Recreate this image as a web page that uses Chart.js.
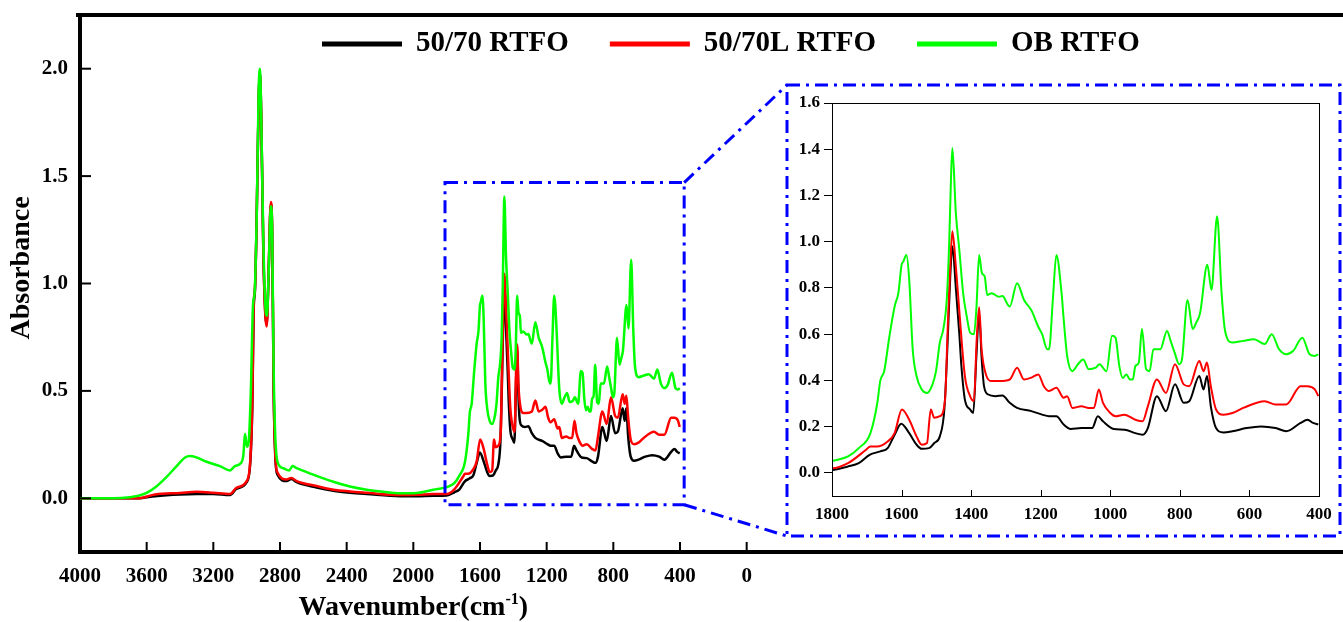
<!DOCTYPE html>
<html>
<head>
<meta charset="utf-8">
<script src="https://cdn.jsdelivr.net/npm/chart.js@4.4.0/dist/chart.umd.min.js"></script>
<style>
  body { margin: 0; background: #fff; }
  #wrap { position: relative; width: 1343px; height: 622px; overflow: hidden; }
  #mainChart { position: absolute; left: 0; top: 0; }
  #insetChart { position: absolute; left: 790px; top: 90px; }
</style>
</head>
<body>
<div id="wrap">
  <canvas id="mainChart" width="1343" height="622"></canvas>
  <canvas id="insetChart" width="545" height="440"></canvas>
</div>
<script>
const SERIF = "'Liberation Serif', 'Times New Roman', serif";

const seriesNames = ["50/70 RTFO", "50/70L RTFO", "OB RTFO"];
const seriesColors = ["#000000", "#ff0000", "#00ff00"];

const mainXTicks = [4000, 3600, 3200, 2800, 2400, 2000, 1600, 1200, 800, 400, 0];
const mainYTicks = [0, 0.5, 1.0, 1.5, 2.0];
const insetXTicks = [1800, 1600, 1400, 1200, 1000, 800, 600, 400];
const insetYTicks = [0, 0.2, 0.4, 0.6, 0.8, 1.0, 1.2, 1.4, 1.6];

// zoomed region marked on the main plot (wavenumber, absorbance)
const zoomWavenumbers = [1810, 375];
const zoomAbsorbance = [-0.03, 1.47];

// [wavenumber, absorbance]
const black5070 = [
  [4000, 0], [3800, 0], [3650, 0], [3550, 0.01], [3400, 0.018], [3300, 0.02], [3200, 0.02],
  [3100, 0.015], [3060, 0.045], [3000, 0.075], [2978, 0.17], [2966, 0.43], [2958, 0.88],
  [2950, 0.97], [2940, 1.3], [2928, 1.85], [2920, 1.98], [2912, 1.75], [2900, 1.15],
  [2888, 0.86], [2880, 0.81], [2870, 1.0], [2855, 1.37], [2847, 1.24], [2838, 0.5],
  [2828, 0.19], [2815, 0.11], [2760, 0.08], [2732, 0.09], [2700, 0.075], [2580, 0.05],
  [2480, 0.035], [2380, 0.026], [2280, 0.02], [2080, 0.01], [1980, 0.01], [1880, 0.012],
  [1800, 0.013], [1754, 0.028], [1723, 0.042], [1692, 0.078], [1661, 0.093], [1640, 0.107],
  [1620, 0.165], [1601, 0.213], [1578, 0.172], [1557, 0.122], [1542, 0.104], [1521, 0.107],
  [1506, 0.129], [1490, 0.158], [1477, 0.274], [1468, 0.55], [1460, 0.85], [1454, 0.98],
  [1444, 0.8], [1434, 0.6], [1428, 0.462], [1418, 0.317], [1403, 0.274], [1394, 0.259],
  [1385, 0.5], [1377, 0.69], [1370, 0.5], [1363, 0.375], [1351, 0.339], [1330, 0.332],
  [1310, 0.335], [1289, 0.303], [1268, 0.281], [1227, 0.267], [1196, 0.252], [1176, 0.245],
  [1155, 0.245], [1134, 0.209], [1114, 0.19], [1083, 0.194], [1052, 0.194], [1036, 0.245],
  [1021, 0.223], [990, 0.19], [959, 0.187], [928, 0.172], [907, 0.165], [892, 0.194],
  [866, 0.332], [840, 0.267], [814, 0.383], [789, 0.303], [773, 0.31], [744, 0.419],
  [732, 0.361], [722, 0.419], [711, 0.288], [696, 0.194], [675, 0.175], [649, 0.18],
  [608, 0.194], [567, 0.201], [525, 0.194], [494, 0.18], [453, 0.216], [433, 0.23],
  [417, 0.216], [402, 0.209]
];

const red5070L = [
  [4000, 0], [3800, 0], [3650, 0], [3550, 0.018], [3400, 0.025], [3300, 0.03], [3200, 0.026],
  [3100, 0.02], [3060, 0.05], [3000, 0.08], [2978, 0.18], [2966, 0.45], [2958, 0.9],
  [2950, 0.98], [2940, 1.3], [2928, 1.85], [2920, 1.98], [2912, 1.75], [2900, 1.15],
  [2888, 0.85], [2880, 0.8], [2870, 1.0], [2855, 1.38], [2847, 1.25], [2838, 0.5],
  [2828, 0.2], [2815, 0.12], [2760, 0.088], [2732, 0.095], [2700, 0.08], [2580, 0.057],
  [2480, 0.04], [2380, 0.032], [2280, 0.026], [2080, 0.015], [1980, 0.016], [1880, 0.02],
  [1800, 0.02], [1754, 0.042], [1702, 0.1], [1690, 0.114], [1671, 0.114], [1640, 0.136],
  [1620, 0.172], [1599, 0.274], [1578, 0.23], [1557, 0.158], [1542, 0.122], [1527, 0.129],
  [1516, 0.274], [1506, 0.238], [1490, 0.245], [1475, 0.317], [1468, 0.6], [1460, 0.9],
  [1454, 1.045], [1444, 0.893], [1434, 0.7], [1418, 0.419], [1403, 0.332], [1392, 0.31],
  [1384, 0.578], [1377, 0.716], [1370, 0.535], [1356, 0.419], [1341, 0.397], [1320, 0.397],
  [1289, 0.404], [1268, 0.455], [1248, 0.404], [1227, 0.412], [1207, 0.426], [1191, 0.375],
  [1176, 0.354], [1155, 0.368], [1134, 0.325], [1124, 0.332], [1109, 0.281], [1083, 0.288],
  [1062, 0.281], [1047, 0.281], [1033, 0.361], [1021, 0.303], [1000, 0.259], [985, 0.245],
  [959, 0.252], [928, 0.23], [907, 0.223], [892, 0.288], [866, 0.404], [840, 0.346],
  [814, 0.47], [789, 0.383], [773, 0.375], [744, 0.484], [732, 0.44], [722, 0.477],
  [711, 0.375], [696, 0.274], [675, 0.252], [649, 0.259], [618, 0.281], [556, 0.31],
  [525, 0.296], [494, 0.296], [453, 0.375], [433, 0.375], [412, 0.361], [402, 0.332]
];

const greenOB = [
  [4000, 0], [3900, 0], [3800, 0], [3700, 0.005], [3650, 0.012], [3600, 0.025], [3550, 0.05],
  [3480, 0.1], [3420, 0.15], [3370, 0.19], [3340, 0.197], [3300, 0.19], [3240, 0.17],
  [3160, 0.15], [3100, 0.13], [3070, 0.15], [3040, 0.16], [3020, 0.2], [3010, 0.3],
  [2998, 0.24], [2988, 0.26], [2975, 0.5], [2962, 0.9], [2952, 0.96], [2940, 1.3],
  [2928, 1.9], [2920, 2.0], [2912, 1.75], [2900, 1.2], [2888, 0.9], [2878, 0.85],
  [2868, 1.05], [2855, 1.36], [2847, 1.25], [2838, 0.6], [2828, 0.28], [2815, 0.17],
  [2780, 0.14], [2745, 0.13], [2725, 0.15], [2700, 0.14], [2600, 0.11], [2480, 0.077],
  [2380, 0.055], [2280, 0.04], [2180, 0.03], [2080, 0.023], [1980, 0.025], [1880, 0.04],
  [1800, 0.052], [1754, 0.071], [1723, 0.107], [1690, 0.17], [1670, 0.3], [1661, 0.4],
  [1650, 0.44], [1635, 0.59], [1620, 0.72], [1609, 0.78], [1600, 0.9], [1595, 0.914],
  [1586, 0.943], [1578, 0.835], [1568, 0.535], [1557, 0.419], [1542, 0.361], [1527, 0.346],
  [1511, 0.383], [1501, 0.44], [1490, 0.564], [1480, 0.622], [1470, 0.752], [1463, 1.0],
  [1458, 1.27], [1454, 1.405], [1444, 1.125], [1434, 0.965], [1423, 0.777], [1413, 0.68],
  [1403, 0.607], [1392, 0.6], [1385, 0.709], [1377, 0.943], [1369, 0.864], [1361, 0.85],
  [1354, 0.77], [1341, 0.777], [1320, 0.762], [1310, 0.765], [1294, 0.726], [1289, 0.72],
  [1268, 0.82], [1248, 0.748], [1227, 0.704], [1207, 0.632], [1196, 0.6], [1181, 0.535],
  [1176, 0.535], [1165, 0.752], [1155, 0.943], [1140, 0.777], [1134, 0.665], [1124, 0.506],
  [1109, 0.44], [1093, 0.47], [1078, 0.49], [1062, 0.448], [1042, 0.455], [1031, 0.47],
  [1011, 0.44], [995, 0.593], [985, 0.585], [974, 0.462], [964, 0.41], [954, 0.426],
  [943, 0.404], [935, 0.404], [928, 0.462], [918, 0.477], [909, 0.622], [897, 0.448],
  [887, 0.44], [876, 0.535], [856, 0.535], [837, 0.614], [825, 0.564], [815, 0.52],
  [802, 0.47], [794, 0.49], [778, 0.748], [763, 0.622], [753, 0.65], [742, 0.69],
  [721, 0.9], [709, 0.791], [693, 1.11], [680, 0.777], [670, 0.614], [649, 0.564],
  [618, 0.571], [587, 0.578], [556, 0.557], [536, 0.6], [515, 0.535], [494, 0.513],
  [474, 0.528], [448, 0.585], [427, 0.513], [412, 0.506], [402, 0.513]
];

// frame drawn round the inset (page pixels)
const insetFrame = { left: 787, top: 85, right: 1340, bottom: 536 };

const toPoints = (pairs) => pairs.map(([x, y]) => ({ x: x, y: y }));

const makeDatasets = (width) => [black5070, red5070L, greenOB].map((pairs, i) => ({
  label: seriesNames[i],
  data: toPoints(pairs),
  borderColor: seriesColors[i],
  backgroundColor: seriesColors[i],
  borderWidth: width,
  pointRadius: 0,
  cubicInterpolationMode: "monotone",
  order: 3 - i
}));

const boldFont = (size) => ({ family: SERIF, size: size, weight: "bold" });

// fixed axis sizes, no label overflow padding
const fixWidth = (w) => (scale) => {
  scale.width = w;
  scale.paddingTop = 0;
  scale.paddingBottom = 0;
};
const fixHeight = (h) => (scale) => {
  scale.height = h;
  scale.paddingLeft = 0;
  scale.paddingRight = 0;
};

const mainDecor = {
  id: "mainDecor",
  afterDraw: (chart) => {
    const ctx = chart.ctx;
    const area = chart.chartArea;
    const xs = chart.scales.x;
    const ys = chart.scales.y;
    ctx.save();

    // top frame line
    ctx.strokeStyle = "#000";
    ctx.lineWidth = 4;
    ctx.beginPath();
    ctx.moveTo(area.left - 4, area.top);
    ctx.lineTo(area.right, area.top);
    ctx.stroke();

    // inward ticks
    ctx.lineWidth = 2;
    mainXTicks.forEach((v) => {
      const px = xs.getPixelForValue(v);
      ctx.beginPath();
      ctx.moveTo(px, area.bottom);
      ctx.lineTo(px, area.bottom - 10);
      ctx.stroke();
    });
    mainYTicks.forEach((v) => {
      const py = ys.getPixelForValue(v);
      ctx.beginPath();
      ctx.moveTo(area.left, py);
      ctx.lineTo(area.left + 11, py);
      ctx.stroke();
    });

    // zoom box, connectors and inset frame
    ctx.strokeStyle = "#0000ff";
    ctx.lineWidth = 3;
    ctx.setLineDash([13, 6, 3, 6]);
    const bx1 = xs.getPixelForValue(zoomWavenumbers[0]);
    const bx2 = xs.getPixelForValue(zoomWavenumbers[1]);
    const by1 = ys.getPixelForValue(zoomAbsorbance[1]);
    const by2 = ys.getPixelForValue(zoomAbsorbance[0]);
    ctx.strokeRect(bx1, by1, bx2 - bx1, by2 - by1);
    ctx.strokeRect(insetFrame.left, insetFrame.top,
      insetFrame.right - insetFrame.left, insetFrame.bottom - insetFrame.top);
    ctx.beginPath();
    ctx.moveTo(bx2, by1);
    ctx.lineTo(insetFrame.left, insetFrame.top);
    ctx.moveTo(bx2, by2);
    ctx.lineTo(insetFrame.left, insetFrame.bottom);
    ctx.stroke();
    ctx.setLineDash([]);

    // legend
    ctx.font = "bold 29px " + SERIF;
    ctx.textBaseline = "middle";
    ctx.textAlign = "left";
    let lx = 322;
    const ly = 44;
    chart.data.datasets.forEach((ds) => {
      ctx.strokeStyle = ds.borderColor;
      ctx.lineWidth = 5;
      ctx.beginPath();
      ctx.moveTo(lx, ly);
      ctx.lineTo(lx + 80, ly);
      ctx.stroke();
      ctx.fillStyle = "#000";
      ctx.fillText(ds.label, lx + 94, ly);
      lx += 94 + ctx.measureText(ds.label).width + 41;
    });

    // x axis title, centred under 4000..0
    const cx = (xs.getPixelForValue(4000) + xs.getPixelForValue(0)) / 2;
    const mainPart = "Wavenumber(cm";
    const supPart = "-1";
    ctx.textBaseline = "alphabetic";
    ctx.font = "bold 28px " + SERIF;
    const w1 = ctx.measureText(mainPart).width;
    const w3 = ctx.measureText(")").width;
    ctx.font = "bold 16px " + SERIF;
    const w2 = ctx.measureText(supPart).width;
    const tx = cx - (w1 + w2 + w3) / 2;
    ctx.font = "bold 28px " + SERIF;
    ctx.fillText(mainPart, tx, 615);
    ctx.font = "bold 16px " + SERIF;
    ctx.fillText(supPart, tx + w1, 604);
    ctx.font = "bold 28px " + SERIF;
    ctx.fillText(")", tx + w1 + w2, 615);

    // y axis title
    ctx.translate(22, 268);
    ctx.rotate(-Math.PI / 2);
    ctx.textAlign = "center";
    ctx.textBaseline = "middle";
    ctx.fillText("Absorbance", 0, 0);
    ctx.restore();
  }
};

const insetDecor = {
  id: "insetDecor",
  afterDraw: (chart) => {
    const ctx = chart.ctx;
    const area = chart.chartArea;
    const xs = chart.scales.x;
    ctx.save();
    ctx.strokeStyle = "#000";
    ctx.lineWidth = 1;
    ctx.strokeRect(area.left + 0.5, area.top + 0.5, area.right - area.left, area.bottom - area.top);
    insetXTicks.forEach((v) => {
      const px = Math.round(xs.getPixelForValue(v)) + 0.5;
      ctx.beginPath();
      ctx.moveTo(px, area.bottom);
      ctx.lineTo(px, area.bottom - 6);
      ctx.stroke();
    });
    ctx.restore();
  }
};

const mainChart = new Chart(document.getElementById("mainChart").getContext("2d"), {
  type: "line",
  data: { datasets: makeDatasets(2.5) },
  options: {
    responsive: false,
    animation: false,
    devicePixelRatio: 1,
    layout: { padding: { top: 15, right: 0, left: 0, bottom: 0 } },
    plugins: { legend: { display: false }, tooltip: { enabled: false } },
    scales: {
      x: {
        type: "linear",
        reverse: true,
        min: -3578,
        max: 4000,
        afterBuildTicks: (scale) => { scale.ticks = mainXTicks.map((v) => ({ value: v })); },
        afterFit: fixHeight(70),
        grid: { display: false, drawTicks: false },
        border: { display: true, color: "#000", width: 4 },
        ticks: {
          padding: 12, color: "#000", font: boldFont(21),
          maxRotation: 0, autoSkip: false,
          callback: (v) => String(v)
        }
      },
      y: {
        type: "linear",
        min: -0.25,
        max: 2.25,
        afterBuildTicks: (scale) => { scale.ticks = mainYTicks.map((v) => ({ value: v })); },
        afterFit: fixWidth(80),
        grid: { display: false, drawTicks: false },
        border: { display: true, color: "#000", width: 4 },
        ticks: {
          padding: 12, color: "#000", font: boldFont(21),
          callback: (v) => v.toFixed(1)
        }
      }
    }
  },
  plugins: [mainDecor]
});

const insetChart = new Chart(document.getElementById("insetChart").getContext("2d"), {
  type: "line",
  data: { datasets: makeDatasets(2) },
  options: {
    responsive: false,
    animation: false,
    devicePixelRatio: 1,
    layout: { padding: { top: 13, right: 16, left: 0, bottom: 0 } },
    plugins: { legend: { display: false }, tooltip: { enabled: false } },
    scales: {
      x: {
        type: "linear",
        reverse: true,
        min: 400,
        max: 1800,
        afterBuildTicks: (scale) => { scale.ticks = insetXTicks.map((v) => ({ value: v })); },
        afterFit: fixHeight(34),
        grid: { display: false, drawTicks: false },
        border: { display: true, color: "#000", width: 1 },
        ticks: {
          padding: 8, color: "#000", font: boldFont(17),
          maxRotation: 0, autoSkip: false,
          callback: (v) => String(v)
        }
      },
      y: {
        type: "linear",
        min: -0.1,
        max: 1.6,
        afterBuildTicks: (scale) => { scale.ticks = insetYTicks.map((v) => ({ value: v })); },
        afterFit: fixWidth(42),
        grid: { display: true, drawOnChartArea: false, drawTicks: true, tickLength: 8, color: "#000", lineWidth: 1 },
        border: { display: true, color: "#000", width: 1 },
        ticks: {
          padding: 4, color: "#000", font: boldFont(17),
          callback: (v) => v.toFixed(1)
        }
      }
    }
  },
  plugins: [insetDecor]
});
</script>
</body>
</html>
